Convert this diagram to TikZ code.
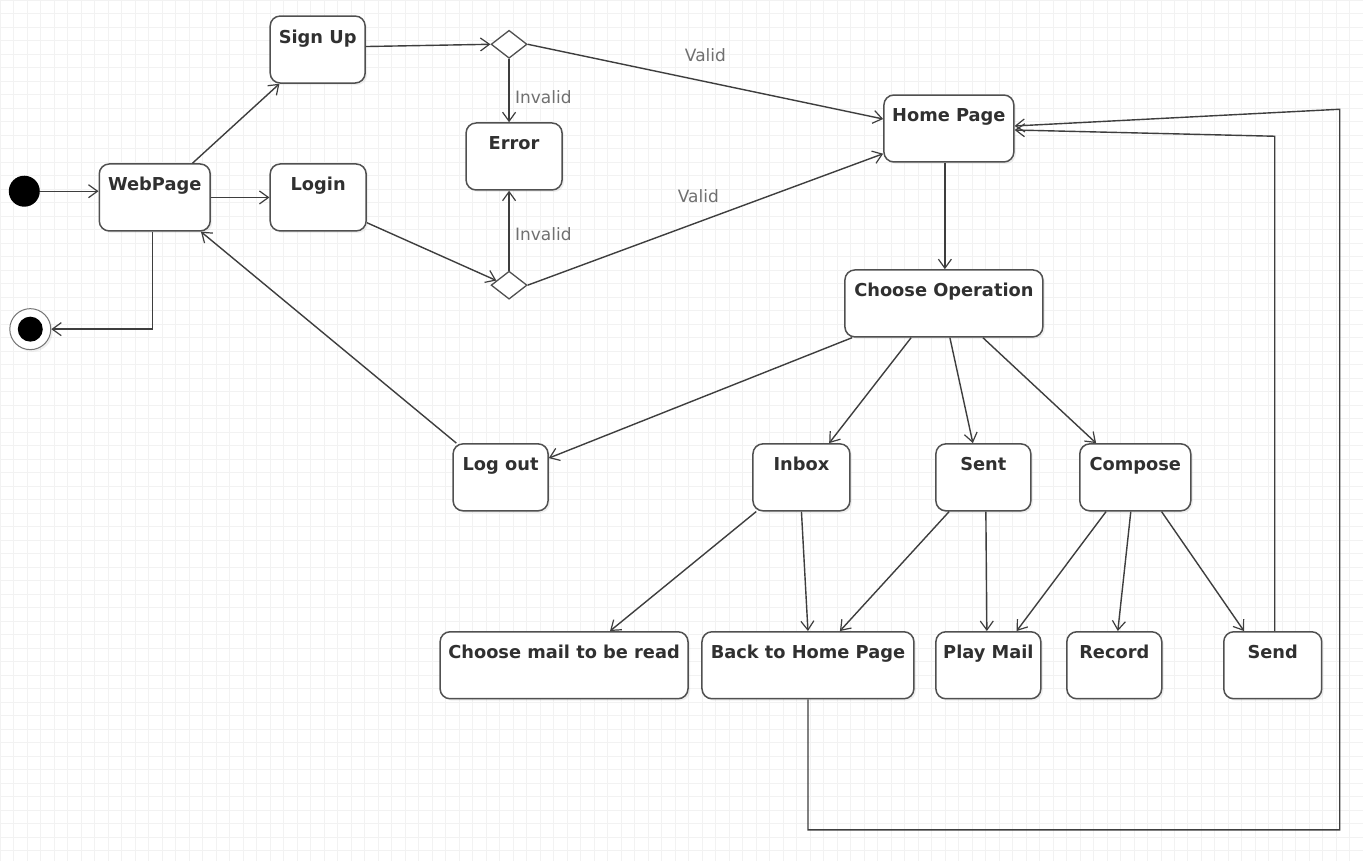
\documentclass[tikz,border=0pt]{standalone}
\usepackage{fontspec}
\setmainfont{DejaVu Sans}
\usetikzlibrary{arrows.meta,shapes.geometric,shadows,calc}

\definecolor{edgecol}{HTML}{3E3E3E}
\definecolor{boxcol}{HTML}{505050}
\definecolor{txtcol}{HTML}{303030}
\definecolor{lblcol}{HTML}{707070}

\tikzset{
  stbox/.style={draw=boxcol, line width=1.5pt, rounded corners=10pt, fill=white,
    anchor=north, inner xsep=2pt, inner ysep=0pt,
    text height=27pt, text depth=40pt, minimum height=67pt,
    text=txtcol, font=\fontsize{17.8}{20}\selectfont\bfseries,
    drop shadow={opacity=0.12, shadow xshift=2pt, shadow yshift=-2pt}},
  decision/.style={draw=boxcol, line width=1.3pt, diamond, fill=white,
    minimum width=36pt, minimum height=28pt, inner sep=0pt},
  trans/.style={draw=edgecol, line width=1.4pt,
    -{Straight Barb[length=9pt,width=13pt,line width=1.2pt]}},
  guard/.style={text=lblcol, font=\fontsize{17}{20}\selectfont},
}

\begin{document}
\begin{tikzpicture}[x=1pt, y=-1pt]
  % canvas with a light grid
  \fill[white] (0,0) rectangle (1363,861);
  \draw[black!5, line width=0.6pt, step=13.5pt] (0,0) grid (1363,861);
  \useasboundingbox (0,0) rectangle (1363,861);

  % pseudo states
  \node[circle, fill=black, minimum size=31pt, inner sep=0pt] (init) at (24,191) {};
  \node[circle, draw=black!55, line width=1pt, fill=white, minimum size=41pt, inner sep=0pt,
        drop shadow={opacity=0.12, shadow xshift=2pt, shadow yshift=-2pt}] (final) at (30,329) {};
  \node[circle, fill=black, minimum size=25pt, inner sep=0pt] at (final) {};

  % states
  \node[stbox, minimum width=111pt] (webpage) at (154.5,163) {WebPage};
  \node[stbox, minimum width=95pt]  (signup)  at (317.5,15)  {Sign Up};
  \node[stbox, minimum width=96pt]  (login)   at (318,163)   {Login};
  \node[stbox, minimum width=96pt]  (error)   at (514,122)   {Error};
  \node[stbox, minimum width=130pt] (home)    at (949,94)    {Home Page};
  \node[stbox, minimum width=198pt] (chooseop) at (944,269)  {Choose Operation};
  \node[stbox, minimum width=95pt]  (logout)  at (500.5,443) {Log out};
  \node[stbox, minimum width=97pt]  (inbox)   at (801.5,443) {Inbox};
  \node[stbox, minimum width=95pt]  (sent)    at (983.5,443) {Sent};
  \node[stbox, minimum width=111pt] (compose) at (1135.5,443) {Compose};
  \node[stbox, minimum width=248pt] (choosemail) at (564,631) {Choose mail to be read};
  \node[stbox, minimum width=212pt] (back)    at (808,631)   {Back to Home Page};
  \node[stbox, minimum width=105pt] (playmail) at (988.5,631) {Play Mail};
  \node[stbox, minimum width=95pt]  (record)  at (1114.5,631) {Record};
  \node[stbox, minimum width=98pt]  (send)    at (1273,631)  {Send};

  % decisions
  \node[decision] (d1) at (509,44) {};
  \node[decision] (d2) at (509,285) {};

  % corner points of the return paths
  \coordinate (sendturn) at (1275,136);
  \coordinate (backdown) at (808,830);
  \coordinate (backright) at (1340,830);
  \coordinate (backup) at (1340,109);

  % transitions
  \draw[trans] (init.east) -- (init.east -| webpage.west);
  \draw[trans] ([xshift=94pt]webpage.north west) -- ([xshift=10pt]signup.south west);
  \draw[trans] (webpage.east) -- (webpage.east -| login.west);
  \draw[trans] ([xshift=-2.5pt]webpage.south) |- (final.east);

  \draw[trans] ([yshift=3pt]signup.east) -- (d1.west);
  \draw[trans] (d1.east) -- node[guard, pos=0.5, yshift=26pt] {Valid} ([yshift=9.5pt]home.west);
  \draw[trans] (d1.south) -- node[guard, pos=0.6, anchor=west, xshift=2pt] {Invalid} (d1.south |- error.north);

  \draw[trans] ([yshift=9pt]login.south east) -- (d2.160);
  \draw[trans] (d2.north) -- node[guard, pos=0.45, anchor=west, xshift=2pt] {Invalid} (d2.north |- error.south);
  \draw[trans] (d2.east) -- node[guard, pos=0.48, yshift=26pt] {Valid} ([yshift=9pt]home.south west);

  \draw[trans] ([xshift=-4pt]home.south) -- ([xshift=-4pt]home.south |- chooseop.north);

  \draw[trans] ([xshift=8pt]chooseop.south west) -- ([yshift=-15pt]logout.north east);
  \draw[trans] ([xshift=4pt]logout.north west) -- ([xshift=-10pt]webpage.south east);
  \draw[trans] ([xshift=67pt]chooseop.south west) -- ([xshift=77pt]inbox.north west);
  \draw[trans] ([xshift=6pt]chooseop.south) -- ([xshift=-10.5pt]sent.north);
  \draw[trans] ([xshift=39pt]chooseop.south) -- ([xshift=17pt]compose.north west);

  \draw[trans] ([xshift=4pt]inbox.south west) -- ([xshift=46pt]choosemail.north);
  \draw[trans] (inbox.south) -- (back.north);
  \draw[trans] ([xshift=14pt]sent.south west) -- ([xshift=32pt]back.north);
  \draw[trans] ([xshift=2.5pt]sent.south) -- ([xshift=-1.5pt]playmail.north);
  \draw[trans] ([xshift=27pt]compose.south west) -- ([xshift=-25pt]playmail.north east);
  \draw[trans] ([xshift=-4.5pt]compose.south) -- ([xshift=3.5pt]record.north);
  \draw[trans] ([xshift=-30pt]compose.south east) -- ([xshift=21pt]send.north west);

  \draw[trans] (send.north -| sendturn) -- (sendturn) -- ([yshift=-1.5pt]home.east);
  \draw[trans] (back.south) -- (backdown) -- (backright) -- (backup) -- ([yshift=2.5pt]home.east);
\end{tikzpicture}
\end{document}
